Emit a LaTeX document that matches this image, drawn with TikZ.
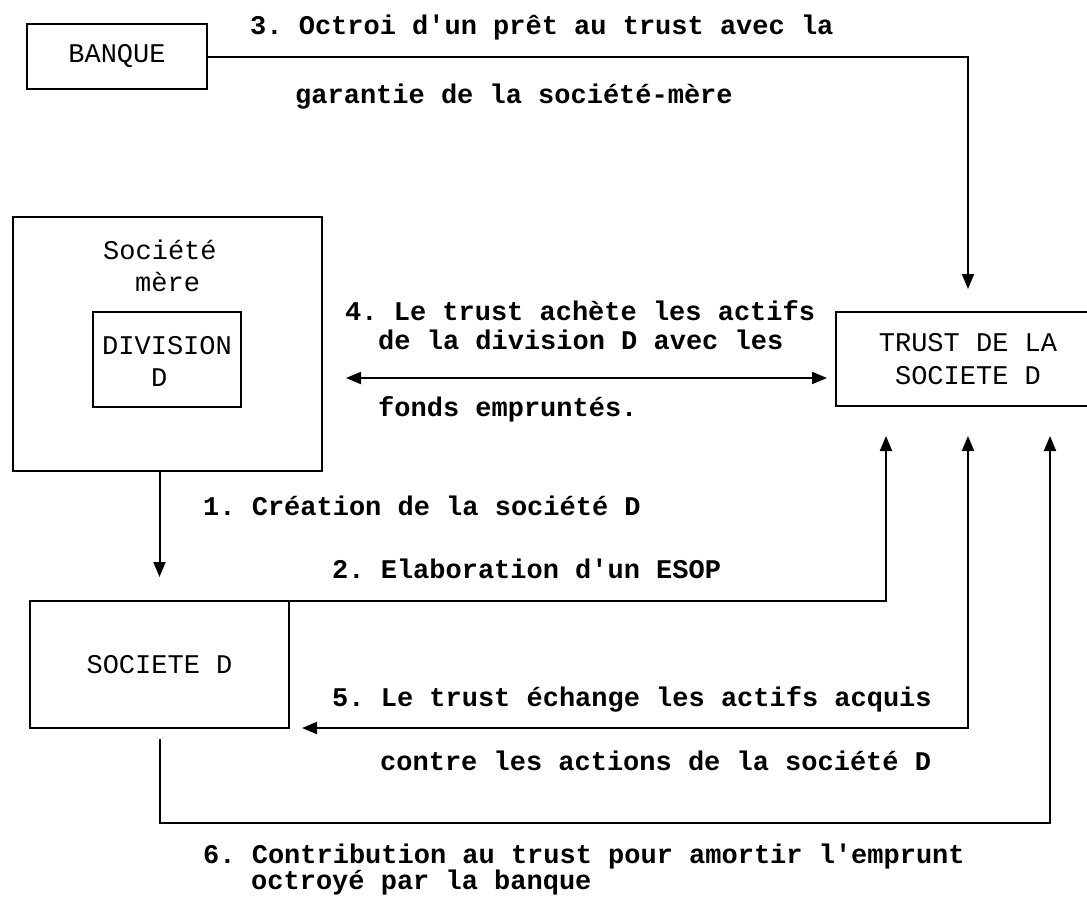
\documentclass[tikz,border=0pt]{standalone}
\usepackage{fontspec}
\setmonofont{Liberation Mono}
\usetikzlibrary{arrows.meta}
\begin{document}
\begin{tikzpicture}[x=1pt,y=-1pt,
  >={Triangle[length=15pt,width=12pt]},
  box/.style={draw,line width=2pt,outer sep=0pt,inner sep=0pt,
    font=\ttfamily\fontsize{27}{33}\selectfont,align=center},
  txt/.style={anchor=base west,inner sep=0pt,font=\ttfamily\fontsize{27}{32}\selectfont},
  lbl/.style={anchor=base west,inner sep=0pt,font=\ttfamily\bfseries\fontsize{27}{28}\selectfont},
  con/.style={line width=2pt}]
\useasboundingbox (0,0) rectangle (1087,900);
\fill[white] (0,0) rectangle (1087,900);

% boxes
\node[box,minimum width=180pt,minimum height=65pt] (banque) at (117,56.5) {BANQUE};
\node[box,minimum width=309pt,minimum height=254pt] (mere) at (167.5,344) {};
\node[box,minimum width=148pt,minimum height=95pt] (div) at (167,359.5) {};
\node[box,minimum width=264pt,minimum height=94pt] (trust) at (968,359) {TRUST DE LA\\SOCIETE D};
\node[box,minimum width=259pt,minimum height=127pt] (socd) at (159.5,664.5) {SOCIETE D};

% texts inside boxes
\node[txt] (tsoc) at (103,259) {Société};
\node[txt] (tmere) at (135,291) {mère};
\node[txt] (tdiv) at (102,354) {DIVISION};
\node[txt] (td) at (151,386) {D};

% labels
\node[lbl] (l3a) at (250,34) {3. Octroi d'un prêt au trust avec la};
\node[lbl] (l3b) at (295,103) {garantie de la société-mère};
\node[lbl] (l4a) at (345,320) {4. Le trust achète les actifs};
\node[lbl] (l4b) at (378,349) {de la division D avec les};
\node[lbl] (l4c) at (378,416) {fonds empruntés.};
\node[lbl] (l1) at (203,515) {1. Création de la société D};
\node[lbl] (l2) at (332,578) {2. Elaboration d'un ESOP};
\node[lbl] (l5a) at (332,706) {5. Le trust échange les actifs acquis};
\node[lbl] (l5b) at (380,770) {contre les actions de la société D};
\node[lbl] (l6a) at (203,863) {6. Contribution au trust pour amortir l'emprunt};
\node[lbl] (l6b) at (251,889) {octroyé par la banque};

% helper coordinates
\coordinate (a4) at (0,378);
\coordinate (c6) at (1050,823);

% connectors
\draw[con,->,shorten >=23pt] (banque.east) -| (trust.north);
\draw[con,<->,shorten <=24pt,shorten >=9pt] (mere.east |- a4) -- (trust.west |- a4);
\draw[con,->,shorten >=24pt] (socd.north |- mere.south) -- (socd.north);
\draw[con,->,shorten >=30pt] (socd.north east) -| ([xshift=-82pt]trust.south);
\draw[con,<->,shorten <=30pt,shorten >=13pt] (trust.south) |- (socd.south east);
\draw[con,->,shorten <=11pt,shorten >=30pt] (socd.south) |- (c6) -- ([xshift=82pt]trust.south);
\end{tikzpicture}
\end{document}
